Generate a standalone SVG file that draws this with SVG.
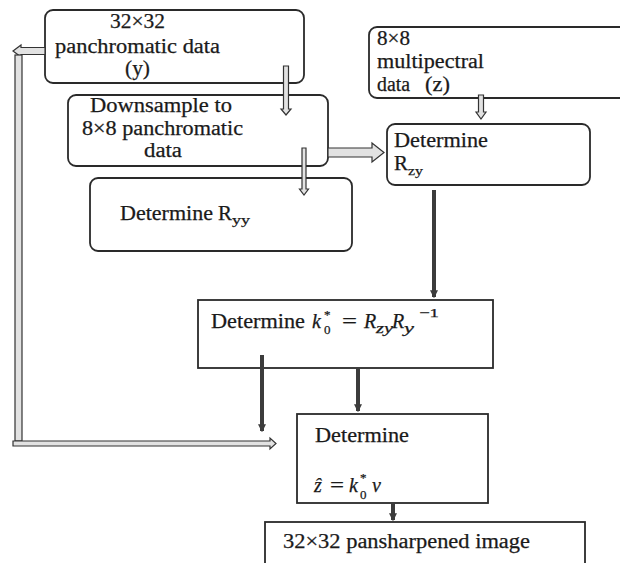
<svg xmlns="http://www.w3.org/2000/svg" width="620" height="563" viewBox="0 0 620 563">
<defs>
<style>
.box{fill:#fff;stroke:#2a2a2a;stroke-width:1.8}
text{font-family:'Liberation Serif','Times New Roman',serif;fill:#1a1a1a;stroke:#1a1a1a;stroke-width:0.25}
.t{font-size:20px}
.s{font-size:13px}
.m{font-style:italic;font-size:20px}
.ms{font-style:italic;font-size:15px}
.ha{fill:#e2e2e2;stroke:#333;stroke-width:1.2;stroke-linejoin:miter}
.ln{stroke:#3c3c3c;stroke-width:4;fill:none}
</style>
<marker id="ah" viewBox="0 0 6 6" refX="5" refY="3" markerWidth="2" markerHeight="2" orient="auto">
<path d="M0,0 L6,3 L0,6 Z" fill="#3c3c3c"/>
</marker>
</defs>

<g id="pan32">
<rect class="box" x="45" y="10" width="259" height="73" rx="8"/>
<text class="t" x="110" y="28" textLength="55" lengthAdjust="spacingAndGlyphs">32×32</text>
<text class="t" x="55" y="53" textLength="165" lengthAdjust="spacingAndGlyphs">panchromatic data</text>
<text class="t" x="125" y="75" textLength="25" lengthAdjust="spacingAndGlyphs">(y)</text>
</g>

<g id="downsample">
<rect class="box" x="68" y="95" width="260" height="71" rx="8"/>
<text class="t" x="90" y="112" textLength="142" lengthAdjust="spacingAndGlyphs">Downsample to</text>
<text class="t" x="82" y="135" textLength="161" lengthAdjust="spacingAndGlyphs">8×8 panchromatic</text>
<text class="t" x="144" y="157" textLength="38" lengthAdjust="spacingAndGlyphs">data</text>
</g>

<g id="ms8">
<rect class="box" x="369" y="27" width="270" height="71" rx="8"/>
<text class="t" x="377" y="45" textLength="33" lengthAdjust="spacingAndGlyphs">8×8</text>
<text class="t" x="377" y="68" textLength="107" lengthAdjust="spacingAndGlyphs">multipectral</text>
<text class="t" x="377" y="91" textLength="33" lengthAdjust="spacingAndGlyphs">data</text>
<text class="t" x="425" y="91" textLength="25" lengthAdjust="spacingAndGlyphs">(z)</text>
</g>

<g id="rzy">
<rect class="box" x="387" y="124" width="203" height="61" rx="8"/>
<text class="t" x="394" y="147" textLength="94" lengthAdjust="spacingAndGlyphs">Determine</text>
<text class="t" x="394" y="170" textLength="14" lengthAdjust="spacingAndGlyphs">R</text>
<text class="s" x="408" y="175" textLength="15" lengthAdjust="spacingAndGlyphs">zy</text>
</g>

<g id="ryy">
<rect class="box" x="90" y="178" width="262" height="73" rx="8"/>
<text class="t" x="120" y="220" textLength="93" lengthAdjust="spacingAndGlyphs">Determine</text>
<text class="t" x="218" y="220" textLength="14" lengthAdjust="spacingAndGlyphs">R</text>
<text class="s" x="232" y="224" textLength="18" lengthAdjust="spacingAndGlyphs">yy</text>
</g>

<g id="k0">
<rect class="box" x="198" y="300" width="295" height="68"/>
<text class="t" x="211" y="328" textLength="94" lengthAdjust="spacingAndGlyphs">Determine</text>
<text class="m" x="312" y="328">k</text>
<text class="s" x="324" y="319">*</text>
<text class="s" x="324" y="334" font-size="11">0</text>
<text class="t" x="342" y="328" textLength="15" lengthAdjust="spacingAndGlyphs">=</text>
<text class="m" x="364" y="328">R</text>
<text class="ms" x="376" y="333" textLength="17" lengthAdjust="spacingAndGlyphs">zy</text>
<text class="m" x="392" y="328">R</text>
<text class="ms" x="404" y="333" textLength="10" lengthAdjust="spacingAndGlyphs">y</text>
<text class="s" x="419" y="317" textLength="20" lengthAdjust="spacingAndGlyphs">−1</text>
</g>

<g id="zhat">
<rect class="box" x="297" y="414" width="191" height="89"/>
<text class="t" x="315" y="442" textLength="94" lengthAdjust="spacingAndGlyphs">Determine</text>
<text class="m" x="314" y="492">ẑ</text>
<text class="t" x="330" y="492" textLength="14" lengthAdjust="spacingAndGlyphs">=</text>
<text class="m" x="349" y="492">k</text>
<text class="s" x="360" y="482" font-size="11">*</text>
<text class="s" x="360" y="499" font-size="8">0</text>
<text class="m" x="372" y="492">v</text>
</g>

<g id="pansharpened">
<rect class="box" x="265" y="522" width="320" height="60"/>
<text class="t" x="283" y="548" textLength="247" lengthAdjust="spacingAndGlyphs">32×32 pansharpened image</text>
</g>

<g id="connectors">
<polygon class="ha" points="45,47.5 21,47.5 21,45 13,51 21,57 21,54.5 45,54.5"/>
<rect class="ha" x="15" y="55" width="7" height="386"/>
<polygon class="ha" points="13,441 270,441 270,438 276,443.5 270,449 270,446 13,446"/>
<polygon class="ha" points="283.5,66 288.5,66 288.5,109 291,109 286,115 281,109 283.5,109"/>
<polygon class="ha" points="302,148 306,148 306,189 308.5,189 304,195 299.5,189 302,189"/>
<polygon class="ha" points="328,148 372,148 372,143 384,152.5 372,162 372,157 328,157"/>
<polygon class="ha" points="478.5,95 483.5,95 483.5,112 486,112 481,119 476,112 478.5,112"/>
<line class="ln" x1="434" y1="190" x2="434" y2="297" marker-end="url(#ah)"/>
<line class="ln" x1="262" y1="355" x2="262" y2="431" marker-end="url(#ah)"/>
<line class="ln" x1="358" y1="368" x2="358" y2="411" marker-end="url(#ah)"/>
<line class="ln" x1="393" y1="503" x2="393" y2="520" marker-end="url(#ah)"/>
</g>
</svg>
